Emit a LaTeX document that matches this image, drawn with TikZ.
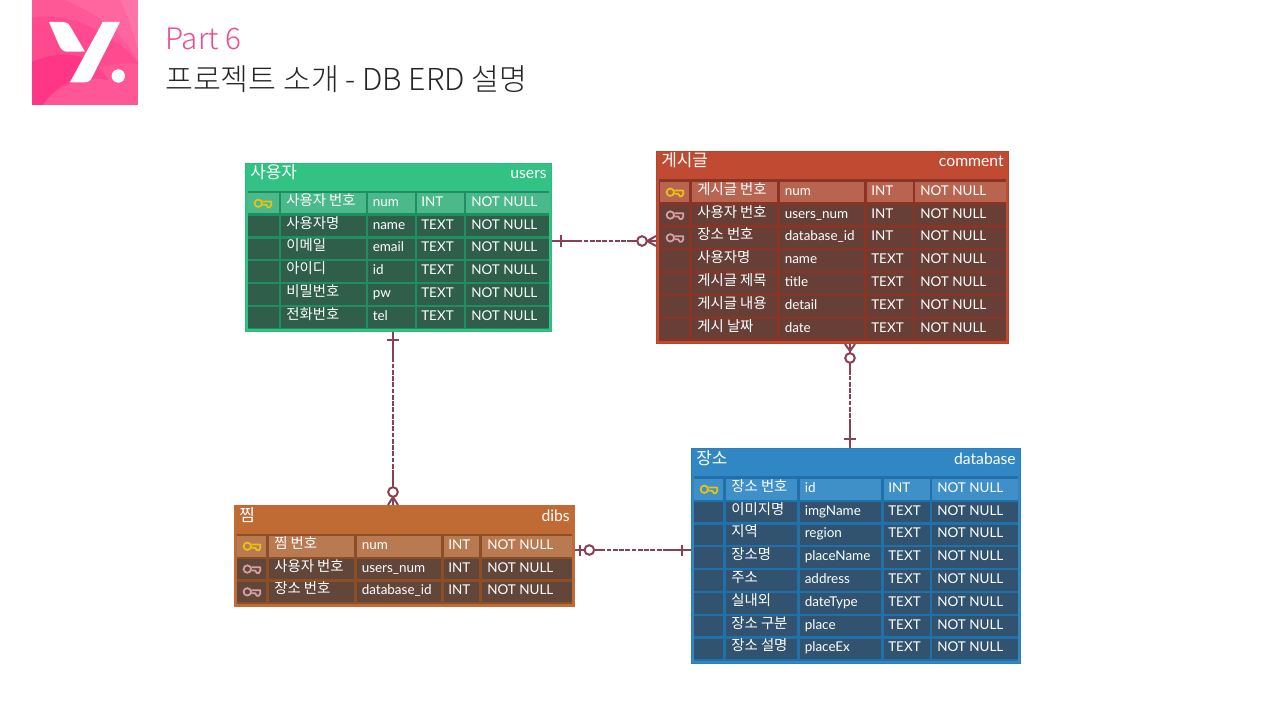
\documentclass[tikz,border=0pt]{standalone}
\usepackage{fontspec}
\setmainfont{Lato}
\newfontfamily\kr{Noto Sans CJK KR}
\newfontfamily\krl{Noto Sans CJK KR}[UprightFont={* Light}]
\usetikzlibrary{calc}
\definecolor{relc}{HTML}{8A4053}
\definecolor{ykey}{HTML}{E8C412}
\definecolor{pkey}{HTML}{D8A0A4}
\definecolor{logoc}{HTML}{FF4A8F}
\definecolor{logod}{HTML}{FF2E84}
\definecolor{partc}{HTML}{F04B91}
\tikzset{
  x=0.75pt,y=-0.75pt,
  krtext/.style={anchor=base west,inner sep=0pt,text=white,font=\kr\fontsize{10.8}{12}\selectfont},
  lattext/.style={anchor=base west,inner sep=0pt,text=white,font=\fontsize{10.1}{12}\selectfont},
  hkr/.style={anchor=base west,inner sep=0pt,text=white,font=\kr\fontsize{12.7}{14}\selectfont},
  hlat/.style={anchor=base east,inner sep=0pt,text=white,font=\fontsize{11.8}{14}\selectfont},
  rel/.style={draw=relc,line width=1.5pt,dash pattern=on 3.6pt off 1.1pt},
  relend/.style={draw=relc,line width=1.5pt},
}
% \keyicon{cx}{cy}{colour}
\newcommand{\keyicon}[3]{%
  \draw[#3,line width=1.3pt] (#1-5,#2) circle[radius=3.7];
  \draw[#3,line width=1.3pt,line join=round] (#1-1,#2-1.7) -- (#1+8,#2-1.7) -- (#1+8,#2+1.5) -- (#1+6.5,#2+4) -- (#1+4.5,#2+4) -- (#1+3,#2+1.5) -- (#1-1,#2+1.5);
}
% table: name, x0,y0,x1,y1, grid top, kor, eng
\newcommand{\ertable}[8]{%
  \def\tn{#1}%
  \fill[hdc] (#2,#3) rectangle (#4,#5);
  \draw[bdc,line width=0.75pt] (#2+0.5,#3+0.5) rectangle (#4-0.5,#5-0.5);
  \node[inner sep=0pt,minimum width={(#4-#2)*0.75pt},minimum height={(#5-#3)*0.75pt}] (#1) at ({(#2+#4)/2},{(#3+#5)/2}) {};
  \node[hkr] (#1-kor) at (#2+5,#3+16) {#7};
  \node[hlat] (#1-eng) at (#4-5,#3+16) {#8};
  \fill[grc] (#2+3,#6) rectangle (#4-3,#5-3);
}
\newcommand{\setcols}[9]{%
  \def\cAa{#1}\def\cAb{#2}\def\cBa{#3}\def\cBb{#4}\def\cCa{#5}\def\cCb{#6}\def\cDa{#7}\def\cDb{#8}\def\cEa{#9}%
}
\newcommand{\setend}[2]{\def\cEb{#1}\def\rowone{#2}}
% \erow{index}{key: 0 none,1 pk,2 fk}{kor}{a}{b}{c}
\newcommand{\erow}[6]{%
  \pgfmathsetmacro{\rt}{\rowone+(#1-1)*22.8}%
  \pgfmathsetmacro{\rb}{\rt+20.5}%
  \pgfmathsetmacro{\rmid}{\rt+10.25}%
  \ifnum#2=1\colorlet{cc}{pkc}\else\colorlet{cc}{cec}\fi
  \foreach \ca/\cb in {\cAa/\cAb,\cBa/\cBb,\cCa/\cCb,\cDa/\cDb,\cEa/\cEb}{\fill[cc] (\ca,\rt) rectangle (\cb,\rb);}
  \ifnum#2=1\keyicon{\cAa+15.3}{\rmid}{ykey}\fi
  \ifnum#2=2\keyicon{\cAa+15.3}{\rmid}{pkey}\fi
  \node[krtext] (\tn-r#1-kor) at (\cBa+5,\rmid+2) {#3};
  \node[lattext] (\tn-r#1-a) at (\cCa+4.5,\rmid+3) {#4};
  \node[lattext] (\tn-r#1-b) at (\cDa+4,\rmid+3) {#5};
  \node[lattext] (\tn-r#1-c) at (\cEa+5,\rmid+3) {#6};
}
\begin{document}
\begin{tikzpicture}
\useasboundingbox (0,0) rectangle (1280,720);
\fill[white] (0,0) rectangle (1280,720);
% logo
\begin{scope}
\clip (32,0) rectangle (138,105);
\fill[logoc] (32,0) rectangle (138,105);
\fill[logod,opacity=0.75] (32,62) .. controls (60,50) and (90,50) .. (108,80) .. controls (85,75) and (55,85) .. (43,105) -- (32,105) -- cycle;
\fill[white,opacity=0.07] (43,105) .. controls (60,78) and (105,60) .. (138,64) -- (138,105) -- cycle;
\fill[white,opacity=0.08] (32,18) .. controls (70,10) and (115,35) .. (138,62) -- (138,0) -- (32,0) -- cycle;
\fill[white,opacity=0.08] (65,0) .. controls (100,15) and (125,35) .. (138,62) -- (138,0) -- cycle;
\fill[white,opacity=0.10] (120,0) .. controls (128,15) and (134,35) .. (138,50) -- (138,0) -- cycle;
\end{scope}
\fill[white] (49,22) -- (63,22) .. controls (66,22) and (68,23) .. (70,26) -- (85,51.7) -- (67,51.7) .. controls (63,51.7) and (61,49) .. (59,45) -- cycle;
\fill[white] (102.7,22) -- (120,22) -- (93.3,75) .. controls (91,80) and (89,82.3) .. (85,82.3) -- (70,82.3) -- cycle;
\fill[white] (118.3,76) circle[radius=6.7];
\node[anchor=base west,inner sep=0pt,text=partc,font=\krl\fontsize{22.2}{24}\selectfont] (part) at (165,49.5) {Part 6};
\node[anchor=base west,inner sep=0pt,text=black!85,font=\krl\fontsize{22.7}{24}\selectfont] (title) at (165,90.5) {프로젝트 소개 - DB ERD 설명};

% users
\definecolor{hdc}{HTML}{32C283}\definecolor{bdc}{HTML}{2CB97B}\definecolor{grc}{HTML}{1F8E60}\definecolor{cec}{HTML}{2F5E4B}\definecolor{pkc}{HTML}{4CB98B}
\ertable{users}{245}{163}{552}{332}{191}{사용자}{users}
\setcols{248}{279}{281}{366}{368}{415}{417}{464}{466}\setend{549}{193}
\erow{1}{1}{사용자 번호}{num}{INT}{NOT NULL}
\erow{2}{0}{사용자명}{name}{TEXT}{NOT NULL}
\erow{3}{0}{이메일}{email}{TEXT}{NOT NULL}
\erow{4}{0}{아이디}{id}{TEXT}{NOT NULL}
\erow{5}{0}{비밀번호}{pw}{TEXT}{NOT NULL}
\erow{6}{0}{전화번호}{tel}{TEXT}{NOT NULL}

% comment
\definecolor{hdc}{HTML}{C04B32}\definecolor{bdc}{HTML}{B5452C}\definecolor{grc}{HTML}{8A3426}\definecolor{cec}{HTML}{673F37}\definecolor{pkc}{HTML}{B96451}
\ertable{comment}{656}{151}{1009}{344}{179}{게시글}{comment}
\setcols{660}{689}{692}{777}{780}{864}{867}{913}{915}\setend{1006}{182}
\erow{1}{1}{게시글 번호}{num}{INT}{NOT NULL}
\erow{2}{2}{사용자 번호}{users\_num}{INT}{NOT NULL}
\erow{3}{2}{장소 번호}{database\_id}{INT}{NOT NULL}
\erow{4}{0}{사용자명}{name}{TEXT}{NOT NULL}
\erow{5}{0}{게시글 제목}{title}{TEXT}{NOT NULL}
\erow{6}{0}{게시글 내용}{detail}{TEXT}{NOT NULL}
\erow{7}{0}{게시 날짜}{date}{TEXT}{NOT NULL}

% database
\definecolor{hdc}{HTML}{3186C4}\definecolor{bdc}{HTML}{2C7FBB}\definecolor{grc}{HTML}{2070AA}\definecolor{cec}{HTML}{31536F}\definecolor{pkc}{HTML}{3F8FC8}
\ertable{database}{691}{448}{1021}{664}{476}{장소}{database}
\setcols{694}{723}{726}{797}{800}{881}{884}{930}{932}\setend{1018}{479}
\erow{1}{1}{장소 번호}{id}{INT}{NOT NULL}
\erow{2}{0}{이미지명}{imgName}{TEXT}{NOT NULL}
\erow{3}{0}{지역}{region}{TEXT}{NOT NULL}
\erow{4}{0}{장소명}{placeName}{TEXT}{NOT NULL}
\erow{5}{0}{주소}{address}{TEXT}{NOT NULL}
\erow{6}{0}{실내외}{dateType}{TEXT}{NOT NULL}
\erow{7}{0}{장소 구분}{place}{TEXT}{NOT NULL}
\erow{8}{0}{장소 설명}{placeEx}{TEXT}{NOT NULL}

% dibs
\definecolor{hdc}{HTML}{BF6B33}\definecolor{bdc}{HTML}{C06C32}\definecolor{grc}{HTML}{8C4E26}\definecolor{cec}{HTML}{62463A}\definecolor{pkc}{HTML}{B97A52}
\ertable{dibs}{234}{505}{575}{607}{534}{찜}{dibs}
\setcols{237}{266}{269}{354}{357}{441}{444}{479}{482}\setend{572}{536}
\erow{1}{1}{찜 번호}{num}{INT}{NOT NULL}
\erow{2}{2}{사용자 번호}{users\_num}{INT}{NOT NULL}
\erow{3}{2}{장소 번호}{database\_id}{INT}{NOT NULL}

% connectors
\draw[rel] (users.east |- 0,241) -- (comment.west |- 0,241);
\draw[rel] (comment.south -| 850,0) -- (database.north -| 850,0);
\draw[rel] (users.south -| 393,0) -- (dibs.north -| 393,0);
\draw[rel] (dibs.east |- 0,550) -- (database.west |- 0,550);
% users-comment ends
\draw[relend] (552,241) -- (578,241);
\draw[relend] (560.7,235.5) -- (560.7,246.5);
\draw[relend] (630,241) -- (637,241);
\draw[relend,fill=white] (642,241) circle[radius=4.8];
\draw[relend] (647,241) -- (656,241) (647,241) -- (656,236) (647,241) -- (656,246);
% comment-database ends
\draw[relend] (850,344) -- (850,353);
\draw[relend] (850,351) -- (845,344) (850,351) -- (855,344);
\draw[relend,fill=white] (850,358) circle[radius=4.8];
\draw[relend] (850,363) -- (850,375);
\draw[relend] (850,420) -- (850,448);
\draw[relend] (844,439) -- (856,439);
% users-dibs ends
\draw[relend] (393,332) -- (393,360);
\draw[relend] (387,340) -- (399,340);
\draw[relend] (393,470) -- (393,505);
\draw[relend] (393,497) -- (388,505) (393,497) -- (398,505);
\draw[relend,fill=white] (393,492) circle[radius=4.8];
% dibs-database ends
\draw[relend] (575,550) -- (601,550);
\draw[relend] (580,544.5) -- (580,555.5);
\draw[relend,fill=white] (589.3,550) circle[radius=4.8];
\draw[relend] (667,550) -- (691,550);
\draw[relend] (682,544.5) -- (682,555.5);
\end{tikzpicture}
\end{document}
